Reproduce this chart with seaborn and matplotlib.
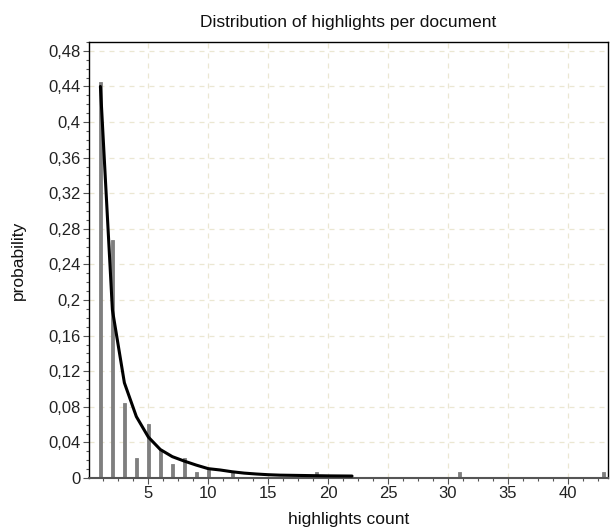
import matplotlib
matplotlib.use("Agg")
import matplotlib.pyplot as plt
import seaborn as sns
import pandas as pd
from matplotlib.ticker import MultipleLocator, FuncFormatter

# Observed probabilities (bars)
bar_counts = [1, 2, 3, 4, 5, 6, 7, 8, 9, 10, 12, 19, 31, 43]
bar_probs = [0.445, 0.268, 0.084, 0.023, 0.061, 0.031, 0.016, 0.023,
             0.007, 0.009, 0.006, 0.007, 0.007, 0.007]

# Fitted distribution (line)
fit_counts = list(range(1, 23))
fit_probs = [0.440, 0.189, 0.107, 0.069, 0.046, 0.032, 0.024, 0.019,
             0.0145, 0.0105, 0.009, 0.007, 0.0055, 0.0045, 0.0037, 0.0032,
             0.003, 0.0028, 0.0026, 0.0024, 0.0023, 0.0022]

title = "Distribution of highlights per document"
xlabel = "highlights count"
ylabel = "probability"

sns.set_style("white")
plt.rcParams['font.family'] = ['Liberation Sans', 'DejaVu Sans']

fig = plt.figure(figsize=(6.14, 5.29), dpi=100)
ax = fig.add_axes([0.145, 0.0964, 0.845, 0.8242])

bars = pd.DataFrame({"count": bar_counts, "prob": bar_probs})
fit = pd.DataFrame({"count": fit_counts, "prob": fit_probs})

ax.bar(bars["count"], bars["prob"], width=0.25, color="#7f7f7f",
       edgecolor="#7f7f7f", linewidth=0.6, zorder=2)
sns.lineplot(data=fit, x="count", y="prob", ax=ax, color="black",
             linewidth=2.2, zorder=3)

ax.set_xlim(0.05, 43.35)
ax.set_ylim(0, 0.49)
ax.xaxis.set_major_locator(MultipleLocator(5))
ax.xaxis.set_minor_locator(MultipleLocator(1.25))
ax.yaxis.set_major_locator(MultipleLocator(0.04))
ax.yaxis.set_minor_locator(MultipleLocator(0.01))

def fmt(v, pos):
    s = f"{v:.2f}".rstrip("0").rstrip(".")
    return s.replace(".", ",")

ax.yaxis.set_major_formatter(FuncFormatter(fmt))
ax.xaxis.set_major_formatter(FuncFormatter(lambda v, p: f"{int(round(v))}" if v > 0 else ""))

ax.grid(True, which="major", color="#ebe7d2", linestyle=(0, (4, 4)), linewidth=0.9, zorder=0)
ax.set_axisbelow(True)

for s in ax.spines.values():
    s.set_color("black")
    s.set_linewidth(1.0)
    s.set_visible(True)
ax.spines["bottom"].set_color("#555555")
ax.spines["bottom"].set_linewidth(1.5)

ax.tick_params(axis="both", which="major", direction="out", length=4, width=0.8,
               color="#555555", labelsize=12, labelcolor="#222222", pad=2,
               bottom=True, left=True)
ax.tick_params(axis="both", which="minor", direction="out", length=2, width=0.8,
               color="#555555", bottom=True, left=True)

ax.set_title(title, fontsize=12.5, pad=11, color="#111111")
ax.set_xlabel(xlabel, fontsize=12.5, labelpad=8, color="#111111")
ax.set_ylabel(ylabel, fontsize=12.5, labelpad=16, color="#111111")

fig.savefig("out.png", dpi=100)
